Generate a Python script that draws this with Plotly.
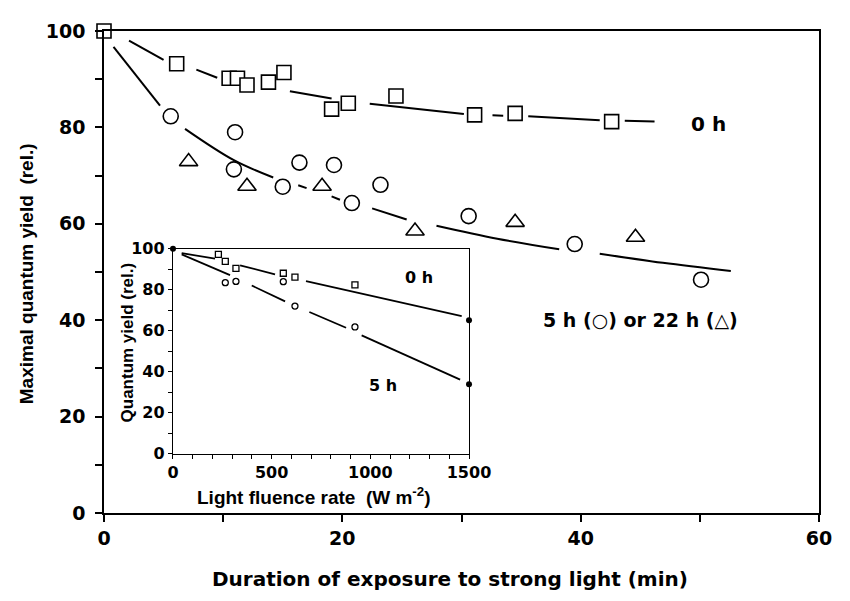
import plotly.graph_objects as go

# ---------------- main panel data (exposure duration, min) ----------------
sq_x = [0, 6.1, 10.5, 11.2, 12.0, 13.8, 15.1, 19.1, 20.5, 24.5, 31.1, 34.5, 42.6]
sq_y = [100, 93.2, 90.2, 90.2, 88.8, 89.4, 91.4, 83.8, 85.0, 86.5, 82.6, 82.9, 81.2]

ci_x = [5.6, 11.0, 10.9, 15.0, 16.4, 19.3, 20.8, 23.2, 30.6, 39.5, 50.1]
ci_y = [82.3, 79.0, 71.3, 67.7, 72.7, 72.2, 64.3, 68.1, 61.6, 55.8, 48.4]

tr_x = [7.1, 12.0, 18.3, 26.1, 34.5, 44.6]
tr_y = [72.9, 67.8, 67.8, 58.5, 60.3, 57.2]

# fitted curves as drawn (gaps where the curve is interrupted)
fit0_x = [2.1, 5.0, None, 7.75, 9.5, None, 15.6, 19.1, None, 22.3, 30.2, None,
          32.6, 33.5, None, 35.6, 41.6, None, 43.7, 46.2]
fit0_y = [98.0, 94.0, None, 92.0, 90.3, None, 87.5, 86.0, None, 84.9, 82.8, None,
          82.5, 82.4, None, 82.3, 81.5, None, 81.4, 81.2]

fit5_x = [0.8, 4.7, None, 6.8, 10.9, 14.2, None, 16.3, 17.0, None, 19.1, 19.8, None,
          22.5, 25.4, None, 27.9, 33.0, 38.2, None, 41.6, 46.9, 52.6]
fit5_y = [96.7, 84.5, None, 79.7, 73.2, 69.6, None, 68.0, 67.4, None, 65.7, 65.0, None,
          63.2, 60.9, None, 59.6, 56.9, 54.7, None, 53.8, 51.9, 50.2]

# ---------------- inset data (light fluence rate, W m-2) ----------------
in_sq_x = [230, 265, 319, 559, 618, 922]
in_sq_y = [97.3, 93.9, 90.5, 88.1, 86.2, 82.4]
in_ci_x = [265, 319, 559, 618, 922]
in_ci_y = [83.5, 84.1, 84.0, 72.1, 61.9]
in_dot_x = [0, 1500, 1500]
in_dot_y = [100, 65.2, 34.0]

in_fit0_x = [44, 213, None, 340, 517, None, 674, 1463]
in_fit0_y = [97.9, 95.2, None, 92.0, 87.6, None, 84.3, 67.2]
in_fit5_x = [44, 289, None, 399, 568, None, 691, 877, None, 956, 1455]
in_fit5_y = [97.3, 87.2, None, 82.1, 74.4, None, 69.2, 61.5, None, 57.8, 36.2]

main_xticks = [0, 10, 20, 30, 40, 50, 60]
main_xtext = ["0", "", "20", "", "40", "", "60"]
main_yticks = [0, 10, 20, 30, 40, 50, 60, 70, 80, 90, 100]
main_ytext = ["0", "", "20", "", "40", "", "60", "", "80", "", "100"]
in_xticks = list(range(0, 1501, 100))
in_xtext = [str(v) if v % 500 == 0 else "" for v in in_xticks]
in_yticks = list(range(0, 101, 10))
in_ytext = [str(v) if v % 20 == 0 else "" for v in in_yticks]

BOLD_WIDE = "DejaVu Sans"
BOLD_NARROW = "Liberation Sans"


def bfont(family, size):
    return dict(family=family, size=size, color="black", weight="bold")


fig = go.Figure()

# main fitted curves
fig.add_trace(go.Scatter(x=fit0_x, y=fit0_y, mode="lines", line=dict(color="black", width=2),
                         connectgaps=False, showlegend=False, hoverinfo="skip"))
fig.add_trace(go.Scatter(x=fit5_x, y=fit5_y, mode="lines", line=dict(color="black", width=2, shape="spline"),
                         connectgaps=False, showlegend=False, hoverinfo="skip"))
# main markers
fig.add_trace(go.Scatter(x=sq_x, y=sq_y, mode="markers", cliponaxis=False, showlegend=False,
                         marker=dict(symbol="square", size=14, color="white",
                                     line=dict(color="black", width=1.6))))
fig.add_trace(go.Scatter(x=ci_x, y=ci_y, mode="markers", cliponaxis=False, showlegend=False,
                         marker=dict(symbol="circle", size=15, color="white",
                                     line=dict(color="black", width=1.6))))
fig.add_trace(go.Scatter(x=tr_x, y=tr_y, mode="markers", cliponaxis=False, showlegend=False,
                         marker=dict(symbol="triangle-up", size=16, color="white",
                                     line=dict(color="black", width=1.6))))

# inset
fig.add_trace(go.Scatter(x=in_fit0_x, y=in_fit0_y, mode="lines", xaxis="x2", yaxis="y2",
                         line=dict(color="black", width=1.8), showlegend=False, hoverinfo="skip"))
fig.add_trace(go.Scatter(x=in_fit5_x, y=in_fit5_y, mode="lines", xaxis="x2", yaxis="y2",
                         line=dict(color="black", width=1.8), showlegend=False, hoverinfo="skip"))
fig.add_trace(go.Scatter(x=in_sq_x, y=in_sq_y, mode="markers", xaxis="x2", yaxis="y2", showlegend=False,
                         marker=dict(symbol="square", size=6, color="white",
                                     line=dict(color="black", width=1.3))))
fig.add_trace(go.Scatter(x=in_ci_x, y=in_ci_y, mode="markers", xaxis="x2", yaxis="y2", showlegend=False,
                         marker=dict(symbol="circle", size=6, color="white",
                                     line=dict(color="black", width=1.3))))
fig.add_trace(go.Scatter(x=in_dot_x, y=in_dot_y, mode="markers", xaxis="x2", yaxis="y2",
                         cliponaxis=False, showlegend=False,
                         marker=dict(symbol="circle", size=6, color="black")))

axis_common = dict(showline=True, linecolor="black", mirror=True, showgrid=False,
                   zeroline=False, ticks="outside", tickcolor="black")

fig.update_layout(
    width=850, height=601,
    margin=dict(l=96, r=38.5, t=16, b=96),
    paper_bgcolor="white", plot_bgcolor="white",
    xaxis=dict(**axis_common, range=[0, 60], tickvals=main_xticks, ticktext=main_xtext,
               linewidth=1.6, tickwidth=1.6, ticklen=7,
               tickfont=bfont(BOLD_WIDE, 19)),
    yaxis=dict(**axis_common, range=[0, 100], tickvals=main_yticks, ticktext=main_ytext,
               linewidth=1.6, tickwidth=1.6, ticklen=7, ticklabelstandoff=6,
               tickfont=bfont(BOLD_WIDE, 19)),
    xaxis2=dict(**axis_common, domain=[0.0965, 0.5105], anchor="y2", range=[0, 1500],
                tickvals=in_xticks, ticktext=in_xtext, linewidth=1.4, tickwidth=1.2, ticklen=4,
                tickfont=bfont(BOLD_WIDE, 16)),
    yaxis2=dict(**axis_common, domain=[0.1227, 0.548], anchor="x2", range=[0, 100],
                tickvals=in_yticks, ticktext=in_ytext, linewidth=1.4, tickwidth=1.2, ticklen=4,
                tickfont=bfont(BOLD_WIDE, 16)),
    showlegend=False,
)

annotations = [
    dict(text="Duration of exposure to strong light (min)", xref="paper", yref="paper",
         x=0.484, y=-0.137, showarrow=False, xanchor="center", yanchor="middle",
         font=bfont(BOLD_WIDE, 20)),
    dict(text="Maximal quantum yield  (rel.)", xref="paper", yref="paper",
         x=-0.108, y=0.497, showarrow=False, textangle=-90, xanchor="center", yanchor="middle",
         font=bfont(BOLD_NARROW, 19)),
    dict(text="0 h", xref="x", yref="y", x=50.7, y=80.8, showarrow=False,
         font=bfont(BOLD_WIDE, 20)),
    dict(text="5 h (○) or 22 h (△)", xref="x", yref="y", x=45.0, y=40.1, showarrow=False,
         font=bfont(BOLD_WIDE, 19)),
    dict(text="0 h", xref="x2", yref="y2", x=1248, y=85.9, showarrow=False,
         font=bfont(BOLD_WIDE, 16)),
    dict(text="5 h", xref="x2", yref="y2", x=1063, y=33.2, showarrow=False,
         font=bfont(BOLD_WIDE, 16)),
    dict(text="Light fluence rate  (W m<sup>-2</sup>)", xref="paper", yref="paper",
         x=(314 - 104) / 715, y=(513 - 496) / 489, showarrow=False, xanchor="center", yanchor="middle",
         font=bfont(BOLD_NARROW, 19)),
    dict(text="Quantum yield (rel.)", xref="paper", yref="paper",
         x=(127 - 104) / 715, y=(513 - 340) / 489, showarrow=False, textangle=-90,
         xanchor="center", yanchor="middle",
         font=bfont(BOLD_NARROW, 17)),
]
fig.update_layout(annotations=annotations)

fig.write_html("out.html")
